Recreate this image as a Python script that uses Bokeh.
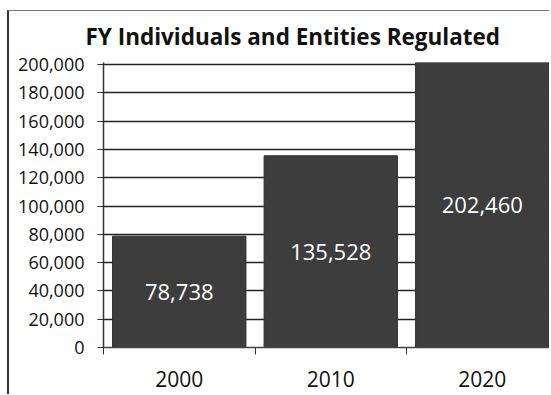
from bokeh.plotting import figure
from bokeh.models import Range1d, FixedTicker, NumeralTickFormatter, ColumnDataSource
from bokeh.core.properties import value
from bokeh.embed import file_html
from bokeh.resources import INLINE

# Data
title_text = "FY Individuals and Entities Regulated"
years = ["2000", "2010", "2020"]
counts = [78738, 135528, 202460]
count_labels = ["78,738", "135,528", "202,460"]
y_ticks = [0, 20000, 40000, 60000, 80000, 100000, 120000, 140000, 160000, 180000, 200000]
y_max = 201500

pos = [i + 0.5 for i in range(len(years))]
label_y = [min(c, y_max) / 2 for c in counts]

src = ColumnDataSource(dict(x=pos, top=counts, ly=label_y, lbl=count_labels))

p = figure(width=542, height=384, output_backend="svg", toolbar_location=None,
           x_range=Range1d(0, 2.957), y_range=Range1d(0, y_max),
           min_border_left=94, min_border_right=0, min_border_top=51, min_border_bottom=48)
p.styles = {"margin-left": "7px", "margin-top": "10px",
            "border-left": "2px solid #333", "border-top": "1px solid #777"}
p.outline_line_color = None
p.background_fill_color = "white"
p.border_fill_color = "white"

p.title.text = title_text
p.title.text_font = "Open Sans"
p.title.text_font_size = "22.5px"
p.title.text_font_style = "bold"
p.title.text_color = "#111"
p.title.align = "left"
p.title.offset = -18
p.title.vertical_align = "top"
p.title.standoff = 18

p.vbar(x="x", top="top", width=0.88, bottom=0, source=src,
       fill_color="#3d3d3d", line_color="#2e2e2e", line_width=1)

p.text(x="x", y="ly", text="lbl", source=src, text_color="white",
       text_font=value("Open Sans"), text_font_size="22px",
       text_align="center", text_baseline="middle")

# y axis
p.yaxis.ticker = FixedTicker(ticks=y_ticks)
p.yaxis.formatter = NumeralTickFormatter(format="0,0")
p.yaxis.major_label_text_font = "Open Sans"
p.yaxis.major_label_text_font_size = "18px"
p.yaxis.major_label_text_color = "#111"
p.yaxis.major_tick_out = 6
p.yaxis.major_tick_in = 0
p.yaxis.minor_tick_line_color = None
p.yaxis.major_label_standoff = 13
p.yaxis.axis_line_color = "#333"
p.yaxis.axis_line_width = 1.5
p.yaxis.major_tick_line_color = "#333"

# x axis
p.xaxis.ticker = FixedTicker(ticks=pos, minor_ticks=[0, 1, 2, 3])
p.xaxis.major_label_overrides = {pos[i]: years[i] for i in range(len(years))}
p.xaxis.major_label_text_font = "Open Sans"
p.xaxis.major_label_text_font_size = "21px"
p.xaxis.major_label_text_color = "#111"
p.xaxis.major_tick_out = 0
p.xaxis.major_tick_in = 0
p.xaxis.minor_tick_out = 7
p.xaxis.minor_tick_in = 0
p.xaxis.minor_tick_line_color = "#333"
p.xaxis.axis_line_color = "#444"
p.xaxis.axis_line_width = 1.5
p.xaxis.major_label_standoff = 16

p.xgrid.grid_line_color = None
p.ygrid.ticker = FixedTicker(ticks=y_ticks)
p.ygrid.grid_line_color = "#222"
p.ygrid.grid_line_width = 1.3

open("out.html", "w").write(file_html(p, INLINE))
